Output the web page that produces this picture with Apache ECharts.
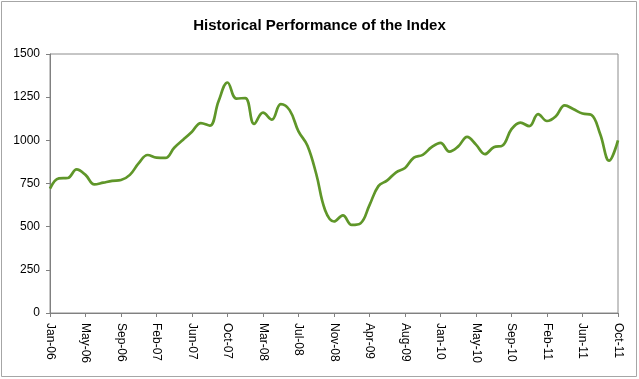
<!DOCTYPE html>
<html>
<head>
<meta charset="utf-8">
<script src="https://cdn.jsdelivr.net/npm/echarts@6/dist/echarts.min.js"></script>
<style>
html,body{margin:0;padding:0;background:#fff;}
#chart{width:639px;height:379px;}
</style>
</head>
<body>
<div id="chart"></div>
<script>
// Tick labels (every 4th sample point)
var tickLabels = ['Jan-06','May-06','Sep-06','Feb-07','Jun-07','Oct-07','Mar-08','Jul-08','Nov-08',
  'Apr-09','Aug-09','Jan-10','May-10','Sep-10','Feb-11','Jun-11','Oct-11'];
var pointsPerTick = 4;

var indexValues = [
  720, 780, 782, 832, 800, 745, 755, 765,
  770, 800, 868, 915, 900, 898, 957, 1003,
  1050, 1100, 1085, 1228, 1335, 1242, 1245, 1095,
  1160, 1120, 1210, 1175, 1052, 970, 805, 595,
  530, 565, 510, 520, 625, 735, 768, 815,
  840, 900, 916, 960, 985, 935, 965, 1020,
  975, 920, 960, 970, 1065, 1103, 1082, 1152,
  1112, 1140, 1203, 1180, 1155, 1147, 1035, 882,
  1000
];

var categories = indexValues.map(function (v, i) {
  return (i % pointsPerTick === 0) ? tickLabels[i / pointsPerTick] : '';
});

var chart = echarts.init(document.getElementById('chart'), null, {renderer: 'canvas'});
var font = 'Liberation Sans, Arial, sans-serif';
chart.setOption({
  animation: false,
  backgroundColor: '#ffffff',
  title: {
    text: 'Historical Performance of the Index',
    left: 'center',
    top: 13,
    textStyle: {fontFamily: font, fontSize: 15, fontWeight: 'bold', color: '#000'}
  },
  graphic: [{
    type: 'rect',
    shape: {x: 1.5, y: 1.5, width: 635, height: 375},
    style: {fill: 'none', stroke: '#a6a6a6', lineWidth: 1},
    silent: true
  }],
  grid: {
    left: 50, top: 54, right: 21, bottom: 66,
    show: true, borderColor: '#8c8c8c', borderWidth: 1, backgroundColor: 'transparent'
  },
  xAxis: {
    type: 'category',
    data: categories,
    boundaryGap: false,
    axisLine: {lineStyle: {color: '#808080', width: 1}},
    axisTick: {show: true, interval: pointsPerTick - 1, length: 4, lineStyle: {color: '#808080'}},
    axisLabel: {
      interval: pointsPerTick - 1, rotate: -90, margin: 10,
      fontFamily: font, fontSize: 12, color: '#000'
    },
    splitLine: {show: false}
  },
  yAxis: {
    type: 'value',
    min: 0, max: 1500, interval: 250,
    axisLine: {show: true, lineStyle: {color: '#808080', width: 1}},
    axisTick: {show: true, length: 4, lineStyle: {color: '#808080'}},
    axisLabel: {margin: 10, fontFamily: font, fontSize: 12, color: '#000',
      formatter: function (v) { return String(v); }},
    splitLine: {show: false}
  },
  series: [{
    type: 'line',
    data: indexValues,
    smooth: 0.4,
    showSymbol: false,
    lineStyle: {color: '#5f9629', width: 2.7}
  }]
});
</script>
</body>
</html>
